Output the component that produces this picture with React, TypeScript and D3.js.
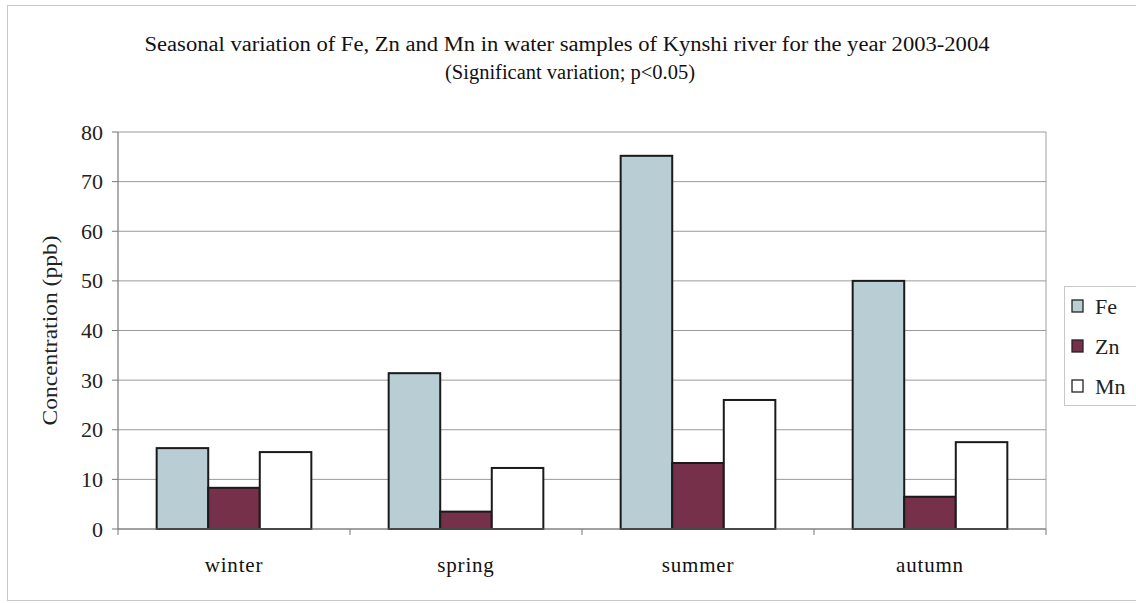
import React from "react";
import * as d3 from "d3";

const categories = ["winter", "spring", "summer", "autumn"];
const seriesNames = ["Fe", "Zn", "Mn"];
const feValues = [16.3, 31.4, 75.2, 50.0];
const znValues = [8.3, 3.5, 13.3, 6.5];
const mnValues = [15.5, 12.3, 26.0, 17.5];
const yTicks = [0, 10, 20, 30, 40, 50, 60, 70, 80];
const seriesColors = ["#b9cdd5", "#76304a", "#ffffff"];
const titleLines = [
  "Seasonal variation of Fe, Zn and Mn in water samples of Kynshi river for the year 2003-2004",
  "(Significant variation; p<0.05)",
];

const W = 1136;
const H = 603;
const plot = { left: 118, right: 1046, top: 132, bottom: 529 };
const FONT = "'Liberation Serif', 'Times New Roman', serif";

export default function App() {
  const values = [feValues, znValues, mnValues];
  const x0 = d3.scaleBand<string>().domain(categories).range([plot.left, plot.right]).paddingInner(0).paddingOuter(0);
  const bw = x0.bandwidth();
  const barW = bw / 4.5;
  const x1 = d3
    .scaleBand<string>()
    .domain(seriesNames)
    .range([0.75 * barW, 0.75 * barW + 3 * barW]);
  const y = d3.scaleLinear().domain([0, 80]).range([plot.bottom, plot.top]);

  return (
    <svg
      width={W}
      height={H}
      style={{ position: "absolute", left: 0, top: 0, background: "#fff" }}
      fontFamily={FONT}
    >
      <rect x={7.5} y={5.5} width={W + 10} height={595} fill="none" stroke="#c8c8c8" strokeWidth={1} />
      <text x={567} y={51} textAnchor="middle" fontSize={20} fill="#111" textLength={845} lengthAdjust="spacingAndGlyphs">
        {titleLines[0]}
      </text>
      <text x={570} y={79} textAnchor="middle" fontSize={20} fill="#111" textLength={250} lengthAdjust="spacingAndGlyphs">
        {titleLines[1]}
      </text>
      {/* gridlines */}
      {yTicks.map((t) => (
        <line
          key={"g" + t}
          x1={plot.left}
          x2={plot.right}
          y1={y(t)}
          y2={y(t)}
          stroke="#9a9a9a"
          strokeWidth={1}
        />
      ))}
      <line x1={plot.right} x2={plot.right} y1={plot.top} y2={plot.bottom} stroke="#a0a0a0" strokeWidth={1} />
      {/* bars */}
      {categories.map((c, ci) => (
        <g key={c}>
          {seriesNames.map((s, si) => {
            const v = values[si][ci];
            return (
              <rect
                key={s}
                x={(x0(c) as number) + (x1(s) as number)}
                y={y(v)}
                width={x1.bandwidth()}
                height={y(0) - y(v)}
                fill={seriesColors[si]}
                stroke="#1a1a1a"
                strokeWidth={2}
              />
            );
          })}
        </g>
      ))}
      {/* axes */}
      <line x1={plot.left} x2={plot.left} y1={plot.top} y2={plot.bottom} stroke="#777" strokeWidth={1.2} />
      <line x1={plot.left} x2={plot.right} y1={plot.bottom} y2={plot.bottom} stroke="#777" strokeWidth={1.2} />
      {yTicks.map((t) => (
        <g key={"t" + t}>
          <line x1={plot.left - 6} x2={plot.left} y1={y(t)} y2={y(t)} stroke="#777" />
          <text x={plot.left - 15} y={y(t) + 7.5} textAnchor="end" fontSize={22} fill="#222">
            {t}
          </text>
        </g>
      ))}
      {categories.map((c, i) => (
        <line
          key={"xt" + i}
          x1={(x0(c) as number)}
          x2={(x0(c) as number)}
          y1={plot.bottom}
          y2={plot.bottom + 6}
          stroke="#777"
        />
      ))}
      <line x1={plot.right} x2={plot.right} y1={plot.bottom} y2={plot.bottom + 6} stroke="#777" />
      {categories.map((c) => (
        <text
          key={"xl" + c}
          x={(x0(c) as number) + bw / 2}
          y={572}
          textAnchor="middle"
          fontSize={21}
          letterSpacing={0.8}
          fill="#111"
        >
          {c}
        </text>
      ))}
      <text
        transform={`translate(57, ${(plot.top + plot.bottom) / 2}) rotate(-90)`}
        textAnchor="middle"
        fontSize={21}
        fill="#222"
        textLength={190}
        lengthAdjust="spacingAndGlyphs"
      >
        Concentration (ppb)
      </text>
      {/* legend */}
      <rect x={1064.5} y={286.5} width={90} height={119} fill="#fff" stroke="#c8c8c8" />
      {seriesNames.map((s, i) => (
        <g key={"lg" + s}>
          <rect
            x={1072}
            y={300 + i * 40}
            width={11}
            height={12}
            fill={seriesColors[i]}
            stroke="#222"
            strokeWidth={1.3}
          />
          <text x={1095} y={314 + i * 40} fontSize={22} fill="#222">
            {s}
          </text>
        </g>
      ))}
    </svg>
  );
}
